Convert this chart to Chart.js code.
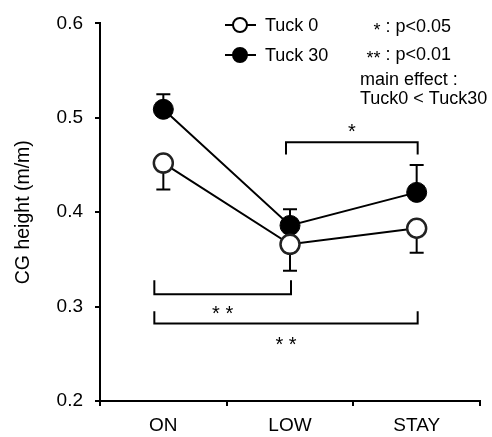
<!DOCTYPE html>
<html><head><meta charset="utf-8">
<script src="https://cdn.jsdelivr.net/npm/chart.js@4"></script>
<style>html,body{margin:0;padding:0;background:#fff}</style>
</head><body>
<canvas id="c" width="492" height="437"></canvas>
<script>
const categories = ['ON', 'LOW', 'STAY'];
const seriesNames = ['Tuck 0', 'Tuck 30'];
const tuck0 = [0.452, 0.366, 0.383];
const tuck0Err = [0.028, 0.028, 0.026];   // drawn downward
const tuck30 = [0.509, 0.386, 0.421];
const tuck30Err = [0.016, 0.017, 0.029];  // drawn upward
const yTicks = [0.2, 0.3, 0.4, 0.5, 0.6];
const yTitle = 'CG height (m/m)';
const bracketFrom = ['LOW', 'ON', 'ON'];
const bracketTo = ['STAY', 'LOW', 'STAY'];
const bracketLevel = [0.474, 0.313, 0.282];
const bracketTip = [0.461, 0.328, 0.295];
const bracketLabel = ['*', '* *', '* *'];
const bracketLabelAt = [0.490, 0.297, 0.265];
const noteStars = ['*', '**'];
const noteTexts = [' : p<0.05', ' : p<0.01'];
const mainEffect = ['main effect :', 'Tuck0 < Tuck30'];

const FONT = "'Liberation Sans', Arial, Helvetica, sans-serif";

const extras = {
  id: 'extras',
  beforeDatasetsDraw(chart) {
    const ctx = chart.ctx, xs = chart.scales.x, ys = chart.scales.y;
    ctx.save();
    ctx.strokeStyle = '#000';
    ctx.lineWidth = 2;
    const draw = (vals, errs, dir) => {
      vals.forEach((v, i) => {
        const x = xs.getPixelForValue(i);
        const y0 = ys.getPixelForValue(v);
        const y1 = ys.getPixelForValue(v + dir * errs[i]);
        ctx.beginPath();
        ctx.moveTo(x, y0); ctx.lineTo(x, y1);
        ctx.moveTo(x - 7, y1); ctx.lineTo(x + 7, y1);
        ctx.stroke();
      });
    };
    draw(tuck30, tuck30Err, 1);
    draw(tuck0, tuck0Err, -1);
    ctx.restore();
  },
  afterDraw(chart) {
    const ctx = chart.ctx, xs = chart.scales.x, ys = chart.scales.y;
    ctx.save();
    ctx.strokeStyle = '#000';
    ctx.fillStyle = '#000';
    ctx.lineWidth = 2;
    // brackets
    bracketFrom.forEach((f, i) => {
      const fi = categories.indexOf(f), ti = categories.indexOf(bracketTo[i]);
      const x0 = xs.getPixelForValue(fi) - (fi === 0 ? 9 : 4);
      const x1 = xs.getPixelForValue(ti) + 1;
      const yl = ys.getPixelForValue(bracketLevel[i]);
      const yt = ys.getPixelForValue(bracketTip[i]);
      ctx.beginPath();
      ctx.moveTo(x0, yt); ctx.lineTo(x0, yl); ctx.lineTo(x1, yl); ctx.lineTo(x1, yt);
      ctx.stroke();
      ctx.font = '20px ' + FONT;
      ctx.textAlign = 'center';
      ctx.textBaseline = 'alphabetic';
      ctx.fillText(bracketLabel[i], (x0 + x1) / 2, ys.getPixelForValue(bracketLabelAt[i]) + 11);
    });
    // legend
    const legY = [25, 55];
    seriesNames.forEach((n, i) => {
      const y = legY[i];
      ctx.lineWidth = 2;
      ctx.beginPath(); ctx.moveTo(225, y); ctx.lineTo(256, y); ctx.stroke();
      ctx.beginPath(); ctx.arc(240, y, 7, 0, Math.PI * 2);
      ctx.fillStyle = i === 0 ? '#fff' : '#000';
      ctx.fill(); ctx.stroke();
      ctx.fillStyle = '#000';
      ctx.font = '18px ' + FONT;
      ctx.textAlign = 'left'; ctx.textBaseline = 'middle';
      ctx.fillText(n, 265, y + 1);
    });
    // significance notes
    const noteY = [27, 55];
    noteTexts.forEach((t, i) => {
      ctx.font = '18px ' + FONT;
      ctx.textAlign = 'right'; ctx.textBaseline = 'middle';
      ctx.fillText(t, 451, noteY[i]);
      const w = ctx.measureText(t).width;
      ctx.font = '18px ' + FONT;
      ctx.textBaseline = 'alphabetic';
      ctx.fillText(noteStars[i], 451 - w, noteY[i] + 9);
    });
    ctx.font = '18px ' + FONT;
    ctx.textBaseline = 'middle';
    ctx.textAlign = 'left';
    ctx.fillText(mainEffect[0], 360, 80);
    ctx.fillText(mainEffect[1], 360, 99);
    ctx.restore();
  }
};

new Chart(document.getElementById('c'), {
  type: 'line',
  data: {
    labels: categories,
    datasets: [
      { label: seriesNames[0], data: tuck0, borderColor: '#000', borderWidth: 2,
        pointBackgroundColor: '#fff', pointBorderColor: '#222', pointBorderWidth: 2.5,
        pointRadius: 9.5, pointHoverRadius: 9.5, fill: false, tension: 0 },
      { label: seriesNames[1], data: tuck30, borderColor: '#000', borderWidth: 2,
        pointBackgroundColor: '#000', pointBorderColor: '#000', pointBorderWidth: 1,
        pointRadius: 10, pointHoverRadius: 10, fill: false, tension: 0 }
    ]
  },
  options: {
    responsive: false,
    animation: false,
    devicePixelRatio: 1,
    events: [],
    layout: { padding: { left: 0, top: 19, right: 5, bottom: 0 } },
    plugins: { legend: { display: false }, tooltip: { enabled: false } },
    scales: {
      x: {
        offset: true,
        grid: { offset: true, drawOnChartArea: false, drawTicks: true, tickLength: 5, color: '#000', lineWidth: 2 },
        border: { display: true, color: '#000', width: 2 },
        ticks: { color: '#000', font: { size: 19, family: FONT }, padding: 8, maxRotation: 0 },
        afterFit: s => { s.height = 36; }
      },
      y: {
        min: 0.2, max: 0.6,
        afterBuildTicks: s => { s.ticks = yTicks.map(v => ({ value: v })); },
        grid: { drawOnChartArea: false, drawTicks: true, tickLength: 5, color: '#000', lineWidth: 2 },
        border: { display: true, color: '#000', width: 2 },
        ticks: { color: '#000', font: { size: 19, family: FONT }, padding: 12,
                 callback: v => Number(v).toFixed(1) },
        title: { display: true, text: yTitle, color: '#000', font: { size: 19.5, family: FONT },
                 padding: { top: 12, bottom: 0 } },
        afterFit: s => { s.width = 100; }
      }
    }
  },
  plugins: [extras]
});
</script>
</body></html>
